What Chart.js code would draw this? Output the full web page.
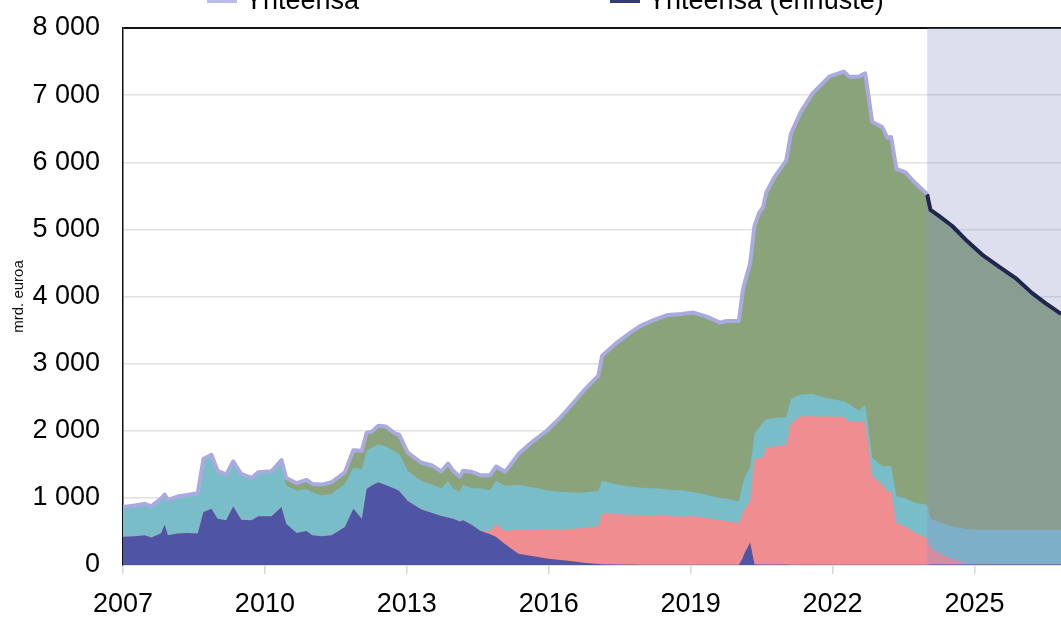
<!DOCTYPE html>
<html lang="fi">
<head>
<meta charset="utf-8">
<script src="https://cdn.jsdelivr.net/npm/chart.js@4.4.1/dist/chart.umd.min.js"></script>
<style>
  html, body { margin: 0; padding: 0; background: #fff; overflow: hidden; }
  #wrap { position: relative; width: 1061px; height: 617px; }
</style>
</head>
<body>
<div id="wrap"><canvas id="chart"></canvas></div>
<script>
// Ajankohdat (vuosi desimaalina)
const years = [
  2007.00, 2007.25, 2007.46, 2007.60, 2007.80, 2007.88, 2007.95, 2008.15, 2008.35, 2008.58,
  2008.70, 2008.87, 2009.00, 2009.18, 2009.33, 2009.50, 2009.72, 2009.86, 2010.14, 2010.35,
  2010.45, 2010.67, 2010.88, 2011.00, 2011.20, 2011.41, 2011.69, 2011.87, 2012.05, 2012.15,
  2012.26, 2012.40, 2012.55, 2012.75, 2012.84, 2013.02, 2013.30, 2013.55, 2013.73, 2013.87,
  2013.98, 2014.12, 2014.19, 2014.37, 2014.55, 2014.76, 2014.89, 2015.08, 2015.36, 2015.68,
  2015.96, 2016.25, 2016.50, 2016.74, 2017.05, 2017.13, 2017.45, 2017.74, 2017.95, 2018.23,
  2018.52, 2018.80, 2019.06, 2019.34, 2019.62, 2019.76, 2020.02, 2020.10, 2020.14, 2020.26,
  2020.35, 2020.45, 2020.53, 2020.60, 2020.77, 2021.02, 2021.12, 2021.33, 2021.58, 2021.79,
  2021.93, 2022.24, 2022.35, 2022.55, 2022.69, 2022.84, 2023.05, 2023.16, 2023.24, 2023.35,
  2023.54, 2023.75, 2024.00, 2024.07, 2024.25, 2024.53, 2024.81, 2025.16, 2025.51, 2025.87,
  2026.22, 2026.50, 2026.83
];

// mrd. euroa
const rahoitusoperaatiot = [
  419, 429, 444, 409, 468, 601, 444, 468, 478, 468,
  789, 838, 690, 666, 873, 675, 666, 725, 725, 863,
  616, 478, 508, 444, 429, 444, 567, 838, 690, 1134,
  1183, 1232, 1190, 1135, 1104, 955, 831, 771, 730, 706,
  690, 647, 667, 600, 510, 458, 418, 308, 169, 129,
  95, 75, 55, 35, 15, 12, 8, 6, 5, 5,
  5, 5, 5, 5, 5, 5, 5, 100, 180, 335,
  10, 8, 8, 8, 8, 8, 5, 5, 5, 5,
  5, 5, 5, 5, 5, 5, 5, 5, 5, 5,
  5, 5, 5, 12, 12, 12, 12, 12, 12, 12,
  12, 12, 12
];

const kohdennetut = [
  0, 0, 0, 0, 0, 0, 0, 0, 0, 0,
  0, 0, 0, 0, 0, 0, 0, 0, 0, 0,
  0, 0, 0, 0, 0, 0, 0, 0, 0, 0,
  0, 0, 0, 0, 0, 0, 0, 0, 0, 0,
  0, 0, 0, 0, 0, 49, 189, 199, 363, 388,
  437, 457, 485, 515, 567, 759, 748, 744, 740, 736,
  725, 716, 720, 695, 670, 645, 620, 680, 645, 625,
  1565, 1582, 1592, 1742, 1762, 1777, 2110, 2210, 2210, 2207,
  2207, 2205, 2130, 2130, 2130, 1320, 1195, 1095, 1095, 620,
  570, 470, 395, 248, 168, 78, 18, 3, 0, 0,
  0, 0, 0
];

const muutArvopaperit = [
  444, 458, 468, 464, 518, 449, 527, 552, 567, 602,
  789, 804, 715, 680, 670, 681, 631, 655, 670, 700,
  567, 631, 626, 641, 606, 616, 641, 616, 740, 567,
  567, 567, 580, 555, 548, 448, 423, 423, 414, 548,
  450, 448, 527, 544, 634, 607, 647, 672, 662, 637,
  582, 558, 540, 530, 522, 483, 438, 420, 405, 403,
  395, 393, 360, 345, 325, 340, 325, 420, 475, 500,
  375, 460, 520, 425, 420, 415, 360, 325, 335, 288,
  268, 230, 265, 165, 240, 275, 275, 375, 375, 400,
  425, 450, 500, 430, 460, 485, 505, 510, 513, 513,
  513, 513, 513
];

const arvopaperiostot = [
  0, 0, 0, 0, 0, 0, 0, 0, 0, 0,
  0, 0, 0, 0, 0, 0, 0, 0, 0, 0,
  114, 109, 133, 123, 163, 173, 172, 257, 271, 271,
  237, 277, 295, 270, 288, 273, 273, 284, 249, 258,
  263, 218, 209, 244, 194, 224, 213, 209, 458, 697,
  886, 1109, 1318, 1517, 1717, 1865, 2124, 2298, 2417, 2508,
  2601, 2627, 2675, 2655, 2610, 2645, 2685, 2875, 2900, 3040,
  3100, 3200, 3205, 3375, 3585, 3825, 3950, 4210, 4475, 4675,
  4795, 4910, 4875, 4975, 4950, 5000, 5050, 4890, 4900, 4875,
  4850, 4765, 4625, 4600, 4560, 4475, 4315, 4100, 3925, 3750,
  3525, 3375, 3215
];

const ennusteAlkaa = 2024.0;

const totals = years.map((y, i) =>
  rahoitusoperaatiot[i] + kohdennetut[i] + muutArvopaperit[i] + arvopaperiostot[i]);

const toPoints = arr => years.map((x, i) => ({ x: x, y: arr[i] }));
const toteutunut = years.map((x, i) => ({ x: x, y: totals[i] })).filter(p => p.x <= ennusteAlkaa);
const ennuste = years.map((x, i) => ({ x: x, y: totals[i] })).filter(p => p.x >= ennusteAlkaa);

Chart.defaults.font.family = '"Liberation Sans", Arial, sans-serif';
Chart.defaults.color = '#000';

// Ennustejakson varjostus alueiden päälle, viivojen alle
const forecastShade = {
  id: 'forecastShade',
  afterDatasetDraw(chart, args) {
    if (args.index !== 0) return;
    const ctx = chart.ctx;
    const area = chart.chartArea;
    const x0 = chart.scales.x.getPixelForValue(ennusteAlkaa);
    ctx.save();
    ctx.fillStyle = 'rgba(138, 145, 200, 0.29)';
    ctx.fillRect(x0, area.top, area.right - x0, area.bottom - area.top);
    ctx.restore();
  }
};

// Selite (vain alin rivi näkyy kuvassa)
const topLegend = {
  id: 'topLegend',
  afterDraw(chart) {
    const ctx = chart.ctx;
    const items = [
      { label: chart.data.datasets[4].label, color: '#b9bbea', x: 207 },
      { label: chart.data.datasets[5].label, color: '#353b78', x: 610 }
    ];
    ctx.save();
    ctx.font = '27px "Liberation Sans", Arial, sans-serif';
    ctx.textBaseline = 'alphabetic';
    items.forEach(it => {
      ctx.fillStyle = it.color;
      ctx.fillRect(it.x, -10, 30, 13);
      ctx.fillStyle = '#000';
      ctx.fillText(it.label, it.x + 38, 9);
    });
    ctx.restore();
  }
};

const ctx = document.getElementById('chart').getContext('2d');
const chart = new Chart(ctx, {
  type: 'line',
  data: {
    datasets: [{
      label: 'Perus- ja pitkäaikaiset rahoitusoperaatiot',
      data: toPoints(rahoitusoperaatiot),
      backgroundColor: '#4f55a4',
      borderWidth: 0,
      fill: 'origin',
      stack: 'osat',
      order: 1
    }, {
      label: 'Kohdennetut pitkäaikaiset rahoitusoperaatiot',
      data: toPoints(kohdennetut),
      backgroundColor: '#f08d91',
      borderWidth: 0,
      fill: 'origin',
      stack: 'osat',
      order: 1
    }, {
      label: 'Muut arvopaperit',
      data: toPoints(muutArvopaperit),
      backgroundColor: '#78bdc8',
      borderWidth: 0,
      fill: 'origin',
      stack: 'osat',
      order: 1
    }, {
      label: 'Rahapoliittiset arvopaperiostot',
      data: toPoints(arvopaperiostot),
      backgroundColor: '#8ba37b',
      borderWidth: 0,
      fill: 'origin',
      stack: 'osat',
      order: 1
    }, {
      label: 'Yhteensä',
      data: toteutunut,
      borderColor: '#a9aadf',
      borderWidth: 4,
      fill: false,
      stack: 'yht',
      order: 0
    }, {
      label: 'Yhteensä (ennuste)',
      data: ennuste,
      borderColor: '#1f2650',
      borderWidth: 4,
      fill: false,
      stack: 'ennuste',
      order: 0
    }]
  },
  options: {
    responsive: true,
    maintainAspectRatio: false,
    animation: false,
    layout: { padding: { top: 28, right: 0, bottom: 0, left: 0 } },
    elements: {
      point: { radius: 0 },
      line: { tension: 0, borderJoinStyle: 'round' }
    },
    plugins: {
      legend: { display: false },
      tooltip: { enabled: false }
    },
    scales: {
      x: {
        type: 'linear',
        min: 2007,
        max: 2026.83,
        offset: false,
        afterFit: s => { s.height = 52; s.paddingLeft = 0; s.paddingRight = 0; },
        ticks: {
          stepSize: 3,
          includeBounds: false,
          autoSkip: false,
          maxRotation: 0,
          padding: 14,
          font: { size: 27 },
          color: '#000',
          callback: v => String(v)
        },
        grid: { drawOnChartArea: false, drawTicks: true, tickLength: 9, color: '#d6d6d6', lineWidth: 1.5 },
        border: { color: '#d0d0d0', width: 1.5 }
      },
      y: {
        stacked: true,
        min: 0,
        max: 8000,
        afterFit: s => { s.width = 123; s.paddingTop = 0; s.paddingBottom = 0; },
        ticks: {
          stepSize: 1000,
          padding: 23,
          font: { size: 27 },
          color: '#000',
          callback: v => String(v).replace(/\B(?=(\d{3})+(?!\d))/g, ' ')
        },
        grid: {
          drawTicks: false,
          color: c => c.tick && c.tick.value === 8000 ? '#111' : '#e2e2e2',
          lineWidth: c => c.tick && c.tick.value === 8000 ? 2 : 1.5
        },
        border: { color: '#111', width: 1.5 },
        title: {
          display: true,
          text: 'mrd. euroa',
          font: { size: 15 },
          color: '#111',
          padding: { top: 10, bottom: 0 }
        }
      }
    }
  },
  plugins: [forecastShade, topLegend]
});
</script>
</body>
</html>
